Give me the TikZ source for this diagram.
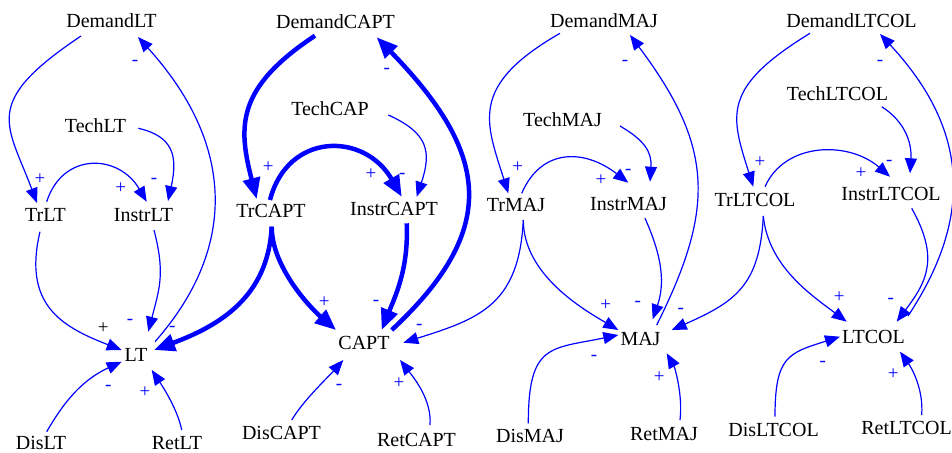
\documentclass[tikz,border=0pt]{standalone}
\usepackage{fontspec}
\setmainfont{Liberation Serif}
\usetikzlibrary{arrows.meta}
\tikzset{
  var/.style={font=\fontsize{20}{24}\selectfont, inner sep=0pt, text height=13.2pt, text depth=0pt, anchor=center},
  sgn/.style={font=\fontsize{19}{22}\selectfont, text=blue, inner sep=0pt, text height=9.5pt, text depth=0pt, anchor=center},
  lnk/.style={draw=blue, line width=1.2pt, -{Triangle[length=15pt,width=12pt]}},
  fat/.style={draw=blue, line width=4.5pt, -{Triangle[length=21pt,width=17pt]}}
}
\begin{document}
\begin{tikzpicture}[x=1pt,y=-1pt]
\clip (0,0) rectangle (952,452);
% column LT
\node[var] (DemandLT) at (111.5,20.5) {DemandLT};
\node[var] (TechLT) at (95.5,125.5) {TechLT};
\node[var] (TrLT) at (45.5,215) {TrLT};
\node[var] (InstrLT) at (143.5,214.5) {InstrLT};
\node[var] (LT) at (136,355) {LT};
\node[var] (DisLT) at (41,442.5) {DisLT};
\node[var] (RetLT) at (177,442.5) {RetLT};
% column CAPT
\node[var] (DemandCAPT) at (335.5,21.5) {DemandCAPT};
\node[var] (TechCAP) at (330,108.5) {TechCAP};
\node[var] (TrCAPT) at (271,211) {TrCAPT};
\node[var] (InstrCAPT) at (394,208.5) {InstrCAPT};
\node[var] (CAPT) at (364,342.5) {CAPT};
\node[var] (DisCAPT) at (281.5,433) {DisCAPT};
\node[var] (RetCAPT) at (416.5,439.5) {RetCAPT};
% column MAJ
\node[var] (DemandMAJ) at (604,21) {DemandMAJ};
\node[var] (TechMAJ) at (562.5,120) {TechMAJ};
\node[var] (TrMAJ) at (516,205) {TrMAJ};
\node[var] (InstrMAJ) at (628.5,204) {InstrMAJ};
\node[var] (MAJ) at (640.5,338.5) {MAJ};
\node[var] (DisMAJ) at (530,436) {DisMAJ};
\node[var] (RetMAJ) at (664,433.5) {RetMAJ};
% column LTCOL
\node[var] (DemandLTCOL) at (851.5,21) {DemandLTCOL};
\node[var] (TechLTCOL) at (837.5,93.5) {TechLTCOL};
\node[var] (TrLTCOL) at (755,200) {TrLTCOL};
\node[var] (InstrLTCOL) at (891,193.5) {InstrLTCOL};
\node[var] (LTCOL) at (873.5,336.5) {LTCOL};
\node[var] (DisLTCOL) at (773.5,429.5) {DisLTCOL};
\node[var] (RetLTCOL) at (906.5,427.5) {RetLTCOL};

% edges column LT
\draw[lnk] ([shift={(-30.5,15.5)}]DemandLT.center) .. controls +(-100,67) and +(-30,-80) .. ([shift={(-8.5,-12)}]TrLT.center);
\draw[lnk] ([shift={(1.2,-13.3)}]TrLT.center) .. controls +(16,-50) and +(-28,-48) .. ([shift={(3.2,-12.8)}]InstrLT.center);
\draw[lnk] ([shift={(42.8,2.8)}]TechLT.center) .. controls +(35,8) and +(10,-45) .. ([shift={(24.5,-13.5)}]InstrLT.center);
\draw[lnk] ([shift={(-5.5,16.7)}]TrLT.center) .. controls +(-17.25,72.75) and +(-60.45,-23.4) .. ([shift={(-14.3,-5)}]LT.center);
\draw[lnk] ([shift={(10.5,15.5)}]InstrLT.center) .. controls +(11.25,43.65) and +(11.25,-43.65) .. ([shift={(12.3,-23.3)}]LT.center);
\draw[lnk] ([shift={(19,-13.3)}]LT.center) .. controls +(85.8,-97.5) and +(93.8,103.6) .. ([shift={(26.5,16.5)}]DemandLT.center);
\draw[lnk] ([shift={(5.7,-10.8)}]DisLT.center) .. controls +(20,-34.8) and +(-36.4,16.8) .. ([shift={(-14.3,6.7)}]LT.center);
\draw[lnk] ([shift={(4.7,-12.5)}]RetLT.center) .. controls +(-4,-20) and +(12,18) .. ([shift={(15.7,15)}]LT.center);

% edges column CAPT
\draw[fat] ([shift={(-20.5,14.2)}]DemandCAPT.center) .. controls +(-78.85,52.25) and +(-18.75,-72.75) .. ([shift={(-14.3,-12)}]TrCAPT.center);
\draw[fat] ([shift={(-1,-11)}]TrCAPT.center) .. controls +(17.5,-67.9) and +(-37.5,-65.25) .. ([shift={(7.7,-11.8)}]InstrCAPT.center);
\draw[lnk] ([shift={(58.3,6.5)}]TechCAP.center) .. controls +(40,18) and +(15,-45) .. ([shift={(22.7,-11.8)}]InstrCAPT.center);
\draw[fat] ([shift={(0.7,15.7)}]TrCAPT.center) .. controls +(0,40) and +(-26.25,-22.75) .. ([shift={(-28,-12.5)}]CAPT.center);
\draw[fat] ([shift={(0.7,15.7)}]TrCAPT.center) .. controls +(-3.5,70) and +(65.8,-24.5) .. ([shift={(18,-5)}]LT.center);
\draw[fat] ([shift={(12.7,14.8)}]InstrCAPT.center) .. controls +(2,45) and +(14,-35) .. ([shift={(17.7,-12.5)}]CAPT.center);
\draw[fat] ([shift={(27.7,-12.5)}]CAPT.center) .. controls +(109.5,-102) and +(112,115.2) .. ([shift={(41.2,15.8)}]DemandCAPT.center);
\draw[lnk] ([shift={(7.3,15)}]TrMAJ.center) .. controls +(-4.25,85) and +(76,-24) .. ([shift={(39.3,0.2)}]CAPT.center);
\draw[lnk] ([shift={(10.2,-13)}]DisCAPT.center) .. controls +(12,-20) and +(-16,18) .. ([shift={(-20.7,17.5)}]CAPT.center);
\draw[lnk] ([shift={(13.5,-14.5)}]RetCAPT.center) .. controls +(2,-25) and +(14,18) .. ([shift={(36,17.5)}]CAPT.center);

% edges column MAJ
\draw[lnk] ([shift={(-44,12.3)}]DemandMAJ.center) .. controls +(-91.35,52.5) and +(-22.5,-71.25) .. ([shift={(-7.7,-11.7)}]TrMAJ.center);
\draw[lnk] ([shift={(5.7,-11.7)}]TrMAJ.center) .. controls +(20,-46) and +(-43.45,-33.55) .. ([shift={(-0.2,-21.3)}]InstrMAJ.center);
\draw[lnk] ([shift={(57.5,6)}]TechMAJ.center) .. controls +(24,14) and +(2,-30) .. ([shift={(21.5,-22.3)}]InstrMAJ.center);
\draw[lnk] ([shift={(7.3,15)}]TrMAJ.center) .. controls +(0,55) and +(-34,-20) .. ([shift={(-22.2,-8.5)}]MAJ.center);
\draw[lnk] ([shift={(16.5,14.3)}]InstrMAJ.center) .. controls +(18,40) and +(12,-35) .. ([shift={(12.2,-19.2)}]MAJ.center);
\draw[lnk] ([shift={(16.2,-13.5)}]MAJ.center) .. controls +(58.5,-117) and +(84,112) .. ([shift={(26,14)}]DemandMAJ.center);
\draw[lnk] ([shift={(8.3,16)}]TrLTCOL.center) .. controls +(-3.5,70) and +(63,-28) .. ([shift={(31.2,-8.5)}]MAJ.center);
\draw[lnk] ([shift={(-1.7,-12.7)}]DisMAJ.center) .. controls +(0,-80) and +(-67.9,14) .. ([shift={(-22.2,-3.5)}]MAJ.center);
\draw[lnk] ([shift={(16,-13.5)}]RetMAJ.center) .. controls +(3,-25) and +(8,14) .. ([shift={(26.2,14.8)}]MAJ.center);

% edges column LTCOL
\draw[lnk] ([shift={(-41.5,12.3)}]DemandLTCOL.center) .. controls +(-89.25,54.6) and +(-22.5,-71.25) .. ([shift={(-1.7,-13.3)}]TrLTCOL.center);
\draw[lnk] ([shift={(10,-13.3)}]TrLTCOL.center) .. controls +(20,-45) and +(-41.25,-35.75) .. ([shift={(-1,-16.8)}]InstrLTCOL.center);
\draw[lnk] ([shift={(44.2,13.2)}]TechLTCOL.center) .. controls +(22,14) and +(2,-32) .. ([shift={(19,-20.2)}]InstrLTCOL.center);
\draw[lnk] ([shift={(8.3,16)}]TrLTCOL.center) .. controls +(5,50) and +(-36,-27) .. ([shift={(-26.8,-14.8)}]LTCOL.center);
\draw[lnk] ([shift={(20.7,14.8)}]InstrLTCOL.center) .. controls +(28,50) and +(30,-40) .. ([shift={(23.2,-14.8)}]LTCOL.center);
\draw[lnk] ([shift={(34.5,-20.5)}]LTCOL.center) .. controls +(66,-99.6) and +(88.4,94.9) .. ([shift={(28.5,13)}]DemandLTCOL.center);
\draw[lnk] ([shift={(1.5,-12.8)}]DisLTCOL.center) .. controls +(0,-60) and +(-52.25,16.5) .. ([shift={(-33.5,0.2)}]LTCOL.center);
\draw[lnk] ([shift={(15.2,-12.5)}]RetLTCOL.center) .. controls +(2,-28) and +(10,14) .. ([shift={(26.5,15.2)}]LTCOL.center);

% polarity signs
\node[sgn] (s1) at (40,180) {+};
\node[sgn] (s2) at (120.7,188.3) {+};
\node[sgn] (s3) at (154,179) {-};
\node[sgn] (s4) at (135,61) {-};
\node[sgn,text=black] (s5) at (103.3,328.3) {+};
\node[sgn] (s6) at (130,320) {-};
\node[sgn] (s7) at (172.3,326.7) {-};
\node[sgn] (s8) at (108.3,385.7) {-};
\node[sgn] (s9) at (145,392.3) {+};

\node[sgn] (s10) at (268.3,167.7) {+};
\node[sgn] (s11) at (371,175) {+};
\node[sgn] (s12) at (402.3,173.3) {-};
\node[sgn] (s13) at (386.7,68.3) {-};
\node[sgn] (s14) at (324.3,302.7) {+};
\node[sgn] (s15) at (376,301) {-};
\node[sgn] (s16) at (419.3,324.3) {-};
\node[sgn] (s17) at (339,384.3) {-};
\node[sgn] (s18) at (399,383.3) {+};

\node[sgn] (s19) at (517.7,167.3) {+};
\node[sgn] (s20) at (601,181) {+};
\node[sgn] (s21) at (628.3,170) {-};
\node[sgn] (s22) at (625,61) {-};
\node[sgn] (s23) at (605.7,305.3) {+};
\node[sgn] (s24) at (637.7,301.7) {-};
\node[sgn] (s25) at (680.7,308.3) {-};
\node[sgn] (s26) at (594,356) {-};
\node[sgn] (s27) at (659.3,377.7) {+};

\node[sgn] (s28) at (760,162.7) {+};
\node[sgn] (s29) at (861,173.3) {+};
\node[sgn] (s30) at (889.3,160.7) {-};
\node[sgn] (s31) at (880,61) {-};
\node[sgn] (s32) at (839.3,297.3) {+};
\node[sgn] (s33) at (890.7,299) {-};
\node[sgn] (s34) at (822.7,361.7) {-};
\node[sgn] (s35) at (893.3,375) {+};
\end{tikzpicture}
\end{document}
